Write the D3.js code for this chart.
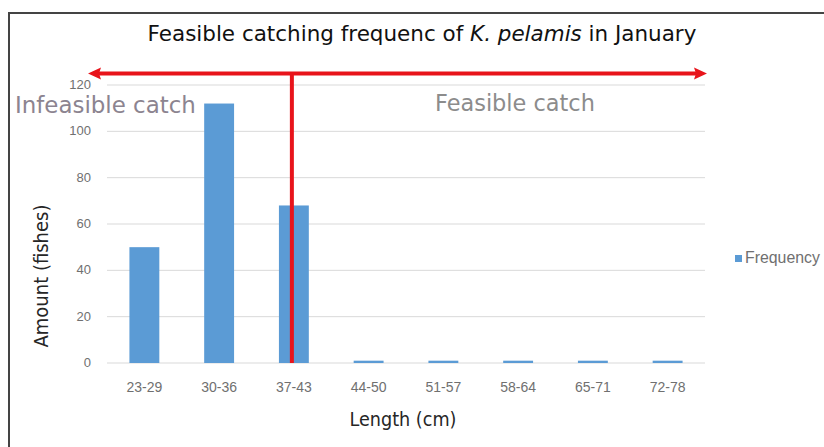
<!DOCTYPE html>
<html>
<head>
<meta charset="utf-8">
<script src="https://cdn.jsdelivr.net/npm/d3@7"></script>
<style>
  body { margin: 0; background: #fff; }
  svg { display: block; }
</style>
</head>
<body>
<div id="chart"></div>
<script>
var lengths = ["23-29", "30-36", "37-43", "44-50", "51-57", "58-64", "65-71", "72-78"];
var frequency = [50, 112, 68, 1, 1, 1, 1, 1];
var yTicks = [0, 20, 40, 60, 80, 100, 120];

var width = 824, height = 447;

var svg = d3.select("#chart").append("svg")
  .attr("width", width)
  .attr("height", height);

// scale font size so a text spans a given width
function fitWidth(sel, target) {
  var fs = parseFloat(sel.style("font-size"));
  var w = sel.node().getComputedTextLength();
  sel.style("font-size", (fs * target / w) + "px");
}

// outer frame
svg.append("rect")
  .attr("x", 9).attr("y", 13)
  .attr("width", 900).attr("height", 500)
  .attr("fill", "none")
  .attr("stroke", "#444")
  .attr("stroke-width", 2);

var x = d3.scaleBand()
  .domain(lengths)
  .range([107, 705])
  .paddingInner(0.6)
  .paddingOuter(0.3);

var y = d3.scaleLinear()
  .domain([0, 120])
  .range([363, 85]);

// gridlines
svg.append("g")
  .selectAll("line")
  .data(yTicks)
  .enter()
  .append("line")
  .attr("x1", 107).attr("x2", 705)
  .attr("y1", d => y(d)).attr("y2", d => y(d))
  .attr("stroke", "#d9d9d9")
  .attr("stroke-width", 1);

// y tick labels
svg.append("g")
  .selectAll("text")
  .data(yTicks)
  .enter()
  .append("text")
  .attr("x", 91)
  .attr("y", d => y(d) + 4)
  .attr("text-anchor", "end")
  .style("font-family", "Liberation Sans Narrow, sans-serif")
  .style("font-size", "13px")
  .style("fill", "#707070")
  .text(d => d);

// bars
svg.append("g")
  .selectAll("rect")
  .data(frequency)
  .enter()
  .append("rect")
  .attr("x", (d, i) => x(lengths[i]))
  .attr("y", d => y(d))
  .attr("width", x.bandwidth())
  .attr("height", d => y(0) - y(d))
  .attr("fill", "#5b9bd5");

// x tick labels
svg.append("g")
  .selectAll("text")
  .data(lengths)
  .enter()
  .append("text")
  .attr("x", d => x(d) + x.bandwidth() / 2)
  .attr("y", 392)
  .attr("text-anchor", "middle")
  .style("font-family", "Liberation Sans Narrow, sans-serif")
  .style("font-size", "14px")
  .style("fill", "#707070")
  .text(d => d);

// axis titles
var xt = svg.append("text")
  .attr("x", 403).attr("y", 426)
  .attr("text-anchor", "middle")
  .style("font-family", "DejaVu Sans Condensed, sans-serif")
  .style("font-size", "15px")
  .style("fill", "#262626")
  .text("Length (cm)");
fitWidth(xt, 107);

var yt = svg.append("text")
  .attr("transform", "translate(48,276) rotate(-90)")
  .attr("text-anchor", "middle")
  .style("font-family", "DejaVu Sans Condensed, sans-serif")
  .style("font-size", "15px")
  .style("fill", "#262626")
  .text("Amount (fishes)");
fitWidth(yt, 143);

// title
var title = svg.append("text")
  .attr("x", 422).attr("y", 41)
  .attr("text-anchor", "middle")
  .style("font-family", "DejaVu Sans, sans-serif")
  .style("font-size", "18px")
  .style("fill", "#111");
title.append("tspan").text("Feasible catching frequenc of ");
title.append("tspan").style("font-style", "italic").text("K. pelamis");
title.append("tspan").text(" in January");
fitWidth(title, 549);

// region labels
var inf = svg.append("text")
  .attr("x", 15).attr("y", 113)
  .style("font-family", "DejaVu Sans, sans-serif")
  .style("font-size", "20px")
  .style("fill", "#8c8490")
  .text("Infeasible catch");
fitWidth(inf, 181);

var fea = svg.append("text")
  .attr("x", 435).attr("y", 111)
  .style("font-family", "DejaVu Sans, sans-serif")
  .style("font-size", "20px")
  .style("fill", "#8c8c8c")
  .text("Feasible catch");
fitWidth(fea, 160);

// red annotation: double arrow + divider
var red = "#e8141b";
var arrowY = y(125);
var splitX = x("37-43") + x.bandwidth() / 2 - 2;

svg.append("line")
  .attr("x1", 96).attr("x2", 698)
  .attr("y1", arrowY).attr("y2", arrowY)
  .attr("stroke", red)
  .attr("stroke-width", 4);

svg.append("path")
  .attr("d", "M88," + arrowY + " L101," + (arrowY - 6) + " L99," + arrowY + " L101," + (arrowY + 6) + " Z")
  .attr("fill", red);
svg.append("path")
  .attr("d", "M707," + arrowY + " L694," + (arrowY - 6) + " L696," + arrowY + " L694," + (arrowY + 6) + " Z")
  .attr("fill", red);

svg.append("line")
  .attr("x1", splitX).attr("x2", splitX)
  .attr("y1", arrowY).attr("y2", y(0))
  .attr("stroke", red)
  .attr("stroke-width", 4);

// legend
svg.append("rect")
  .attr("x", 735).attr("y", 255)
  .attr("width", 7).attr("height", 7)
  .attr("fill", "#5b9bd5");
var lg = svg.append("text")
  .attr("x", 745).attr("y", 263)
  .style("font-family", "Liberation Sans Narrow, sans-serif")
  .style("font-size", "13px")
  .style("fill", "#707070")
  .text("Frequency");
fitWidth(lg, 75);
</script>
</body>
</html>
